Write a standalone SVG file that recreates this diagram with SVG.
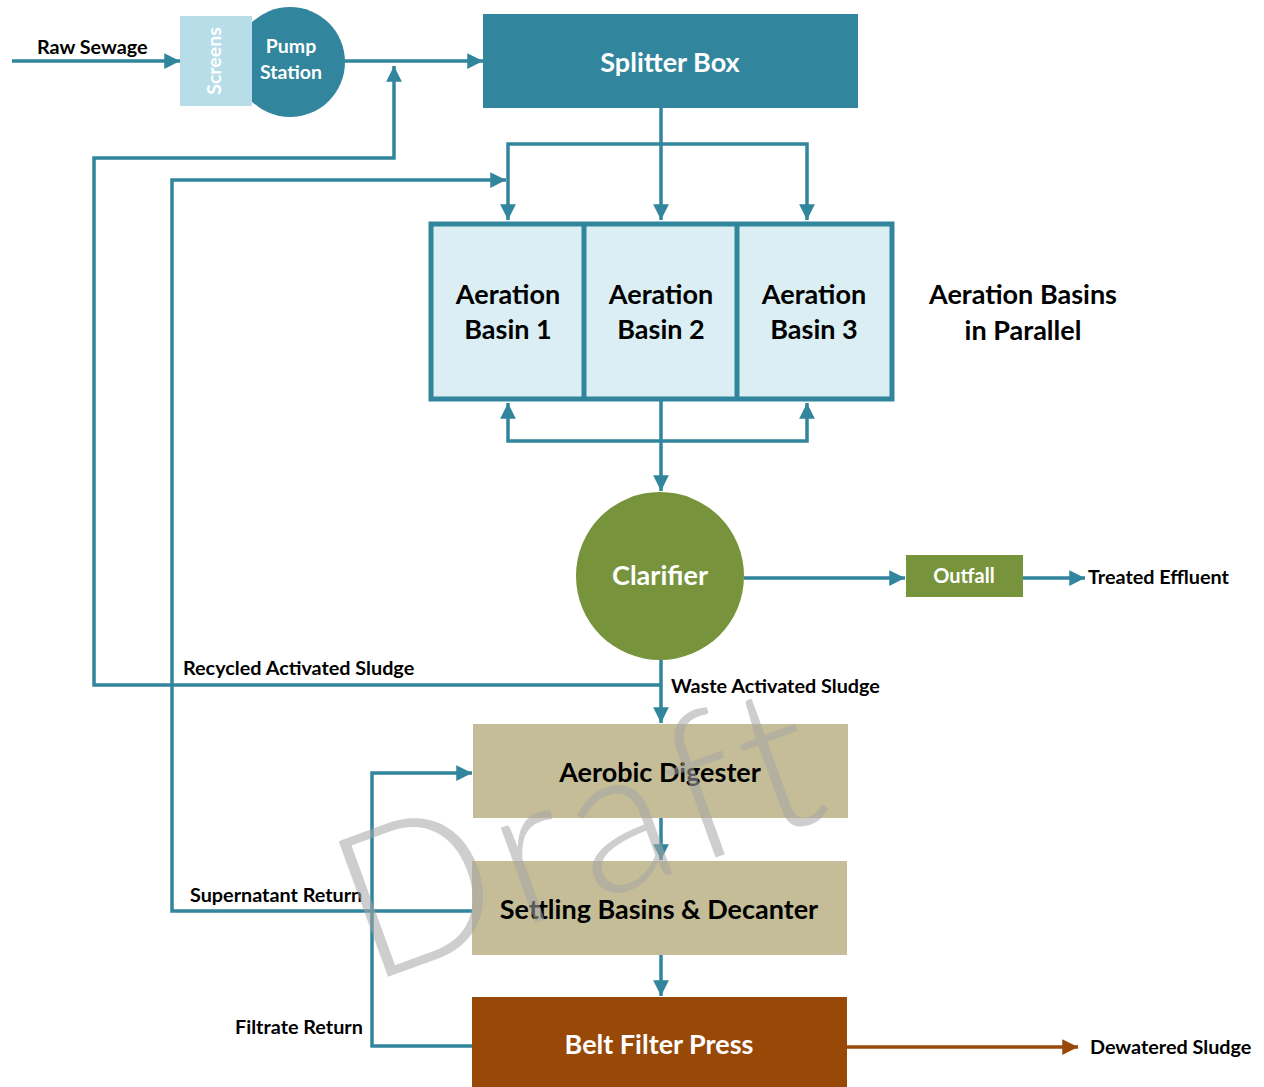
<svg xmlns="http://www.w3.org/2000/svg" width="1264" height="1087" viewBox="0 0 1264 1087">
<style>
text{font-family:Lato,"Open Sans","Liberation Sans",sans-serif;font-weight:bold}
.lbl{font-size:19.8px;fill:#000}
.big{font-size:27px;fill:#000;text-anchor:middle}
.wt{fill:#fff;text-anchor:middle}
.c{fill:none;stroke:#31859c;stroke-width:3.5}
.o{fill:none;stroke:#984807;stroke-width:3.5}
</style>
<defs>
<marker id="a" viewBox="0 0 10 10" refX="10" refY="5" markerWidth="5" markerHeight="4.5" orient="auto" markerUnits="strokeWidth"><path d="M0,0L10,5L0,10z" fill="#31859c"/></marker>
<marker id="b" viewBox="0 0 10 10" refX="10" refY="5" markerWidth="5" markerHeight="4.5" orient="auto" markerUnits="strokeWidth"><path d="M0,0L10,5L0,10z" fill="#984807"/></marker>
</defs>
<rect width="1264" height="1087" fill="#fff"/>
<g id="connectors">
<path class="c" d="M12,61H180" marker-end="url(#a)"/>
<path class="c" d="M345,61H483" marker-end="url(#a)"/>
<path class="c" d="M661,685H94V158H394V66" marker-end="url(#a)"/>
<path class="c" d="M661,108V220" marker-end="url(#a)"/>
<path class="c" d="M661,144H508V220" marker-end="url(#a)"/>
<path class="c" d="M661,144H807V220" marker-end="url(#a)"/>
<path class="c" d="M472,911H172V180H506" marker-end="url(#a)"/>
<path class="c" d="M661,399V491" marker-end="url(#a)"/>
<path class="c" d="M661,441H508V403" marker-end="url(#a)"/>
<path class="c" d="M661,441H807V403" marker-end="url(#a)"/>
<path class="c" d="M744,578H905" marker-end="url(#a)"/>
<path class="c" d="M1023,578H1085" marker-end="url(#a)"/>
<path class="c" d="M661,660V723" marker-end="url(#a)"/>
<path class="c" d="M661,818V860" marker-end="url(#a)"/>
<path class="c" d="M661,955V996" marker-end="url(#a)"/>
<path class="c" d="M472,1046H372V773H472" marker-end="url(#a)"/>
<path class="o" d="M847,1047H1078" marker-end="url(#b)"/>
</g>
<g id="pump-station"><circle cx="290" cy="62" r="55" fill="#31859c"/><text class="wt" x="291" y="53" font-size="19.5">Pump</text><text class="wt" x="291" y="79" font-size="19.5">Station</text></g>
<g id="screens"><rect x="180" y="16" width="72" height="90" fill="#b6dde8"/><text class="wt" transform="translate(221,61) rotate(-90)" font-size="19.5">Screens</text></g>
<g id="splitter-box"><rect x="483" y="14" width="375" height="94" fill="#31859c"/><text class="wt" x="670" y="72" font-size="27">Splitter Box</text></g>
<g id="aeration-basins">
<rect x="431" y="224" width="461" height="175" fill="#daeef3" stroke="#31859c" stroke-width="5"/>
<path d="M584,224V399M737,224V399" stroke="#31859c" stroke-width="5"/>
<text class="big" x="508" y="304">Aeration</text><text class="big" x="508" y="339">Basin 1</text>
<text class="big" x="661" y="304">Aeration</text><text class="big" x="661" y="339">Basin 2</text>
<text class="big" x="814" y="304">Aeration</text><text class="big" x="814" y="339">Basin 3</text>
</g>
<g id="aeration-label"><text class="big" x="1023" y="304">Aeration Basins</text><text class="big" x="1023" y="340">in Parallel</text></g>
<g id="clarifier"><circle cx="660" cy="576" r="84" fill="#77933c"/><text class="wt" x="660" y="585" font-size="27">Clarifier</text></g>
<g id="outfall"><rect x="906" y="555" width="117" height="42" fill="#77933c"/><text class="wt" x="964" y="583" font-size="20">Outfall</text></g>
<g id="aerobic-digester"><rect x="473" y="724" width="375" height="94" fill="#c4bd97"/><text class="big" x="660" y="782">Aerobic Digester</text></g>
<g id="settling-basins"><rect x="472" y="861" width="375" height="94" fill="#c4bd97"/><text class="big" x="659" y="919">Settling Basins &amp; Decanter</text></g>
<g id="belt-filter-press"><rect x="472" y="997" width="375" height="90" fill="#984807"/><text class="wt" x="659" y="1054" font-size="27">Belt Filter Press</text></g>
<g id="labels">
<text class="lbl" x="37" y="54">Raw Sewage</text>
<text class="lbl" x="1088" y="584">Treated Effluent</text>
<text class="lbl" x="183" y="675">Recycled Activated Sludge</text>
<text class="lbl" x="671" y="693">Waste Activated Sludge</text>
<text class="lbl" x="190" y="902">Supernatant Return</text>
<text class="lbl" x="235" y="1034">Filtrate Return</text>
<text class="lbl" x="1090" y="1054">Dewatered Sludge</text>
</g>
<text transform="translate(368,984) rotate(-20)" font-size="204" letter-spacing="9" style="font-weight:300" fill="#a6a6a6" fill-opacity="0.55">Draft</text>
</svg>
